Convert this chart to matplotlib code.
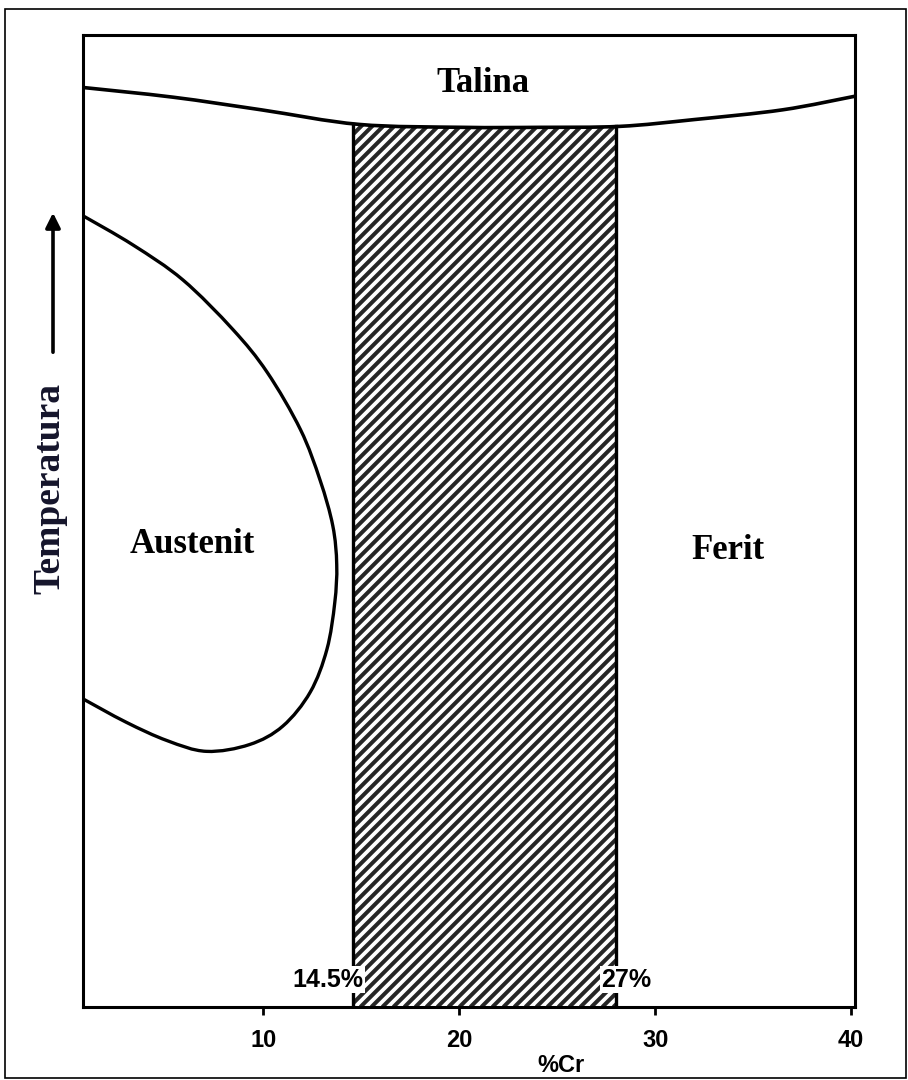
import numpy as np
import matplotlib.pyplot as plt
from matplotlib.patches import Polygon, Rectangle, PathPatch
from matplotlib.path import Path

# liquidus line (Talina boundary)
liq_x = [0.8, 5.4, 9.9, 14.9, 20.2, 24.1, 28.2, 32.0, 36.5, 40.2]
liq_y = [94.6, 93.6, 92.3, 90.8, 90.5, 90.5, 90.6, 91.3, 92.3, 93.7]

# austenite loop (gamma loop)
aus_x = [0.8, 3.35, 5.9, 8.45, 10.2, 11.9, 12.9, 13.55, 13.75, 13.65, 13.25,
         12.4, 11.0, 9.3, 7.1, 5.1, 3.0, 0.8]
aus_y = [81.4, 78.4, 74.8, 69.7, 65.3, 59.4, 54.2, 49.5, 45.5, 41.6, 36.8,
         32.4, 28.9, 27.0, 26.3, 27.4, 29.3, 31.7]

# ferritic band limits (% Cr)
band_lo = 14.6
band_hi = 28.0
band_labels = ['14.5%', '27%']

xticks = [10, 20, 30, 40]
xlim = (0.8, 40.2)
ylim = (0, 100)

serif = 'Liberation Serif'
sans = 'Liberation Sans'


def smooth_path(xs, ys):
    # Catmull-Rom through the read points, drawn as cubic Bezier segments
    p = np.column_stack([xs, ys]).astype(float)
    ext = np.vstack([p[0], p, p[-1]])
    verts = [p[0]]
    codes = [Path.MOVETO]
    for i in range(1, len(ext) - 2):
        p0, p1, p2, p3 = ext[i - 1], ext[i], ext[i + 1], ext[i + 2]
        verts += [p1 + (p2 - p0) / 6, p2 - (p3 - p1) / 6, p2]
        codes += [Path.CURVE4] * 3
    return Path(verts, codes)


fig = plt.figure(figsize=(9.08, 10.8), dpi=100)
fig.patch.set_facecolor('white')
fig.patches.append(Rectangle((0.006, 0.002), 0.992, 0.99, transform=fig.transFigure,
                             fill=False, lw=1.2, ec='black'))

ax = fig.add_axes([0.0914, 0.0676, 0.8502, 0.9])
ax.set_xlim(*xlim)
ax.set_ylim(*ylim)

# band polygon (clip for the hatch)
bx = np.linspace(band_lo, band_hi, 60)
by = np.interp(bx, liq_x, liq_y)
poly_pts = [(band_lo, 0)] + list(zip(bx, by)) + [(band_hi, 0)]
band = Polygon(poly_pts, closed=True, fc='white', ec='none', zorder=1)
ax.add_patch(band)

# 45 deg hatch lines in pixel space
W = 0.8502 * 908
H = 0.9 * 1080
px_x = W / (xlim[1] - xlim[0])
px_y = H / (ylim[1] - ylim[0])
slope = px_x / px_y
step = 11.0 / px_x
for x0 in np.arange(band_lo - 100 / slope, band_hi + step, step):
    ln, = ax.plot([x0, x0 + 100 / slope], [0, 100], color='#262626', lw=2.9,
                  solid_capstyle='butt', zorder=2)
    ln.set_clip_path(band)

# band edges
for xb in [band_lo, band_hi]:
    ax.plot([xb, xb], [0, np.interp(xb, liq_x, liq_y)], color='black', lw=2.4, zorder=3)

ax.add_patch(PathPatch(smooth_path(liq_x, liq_y), fc='none', ec='black', lw=2.6,
                       zorder=3, capstyle='round'))
ax.add_patch(PathPatch(smooth_path(aus_x, aus_y), fc='none', ec='black', lw=2.4,
                       zorder=3, capstyle='round'))

for s in ax.spines.values():
    s.set_linewidth(2.2)
ax.set_xticks(xticks)
ax.set_xticklabels([str(t) for t in xticks], fontfamily=sans, fontweight='bold', fontsize=17)
ax.tick_params(axis='x', direction='out', length=6, width=2, pad=10)
ax.set_yticks([])

# labels at the bottom of the band
ax.text(band_lo + 0.5, 2.8, band_labels[0], ha='right', va='center', fontsize=18,
        fontweight='bold', fontfamily=sans, zorder=4,
        bbox=dict(fc='white', ec='none', pad=1.0))
ax.text(band_hi - 0.75, 2.8, band_labels[1], ha='left', va='center', fontsize=18,
        fontweight='bold', fontfamily=sans, zorder=4,
        bbox=dict(fc='white', ec='none', pad=1.0))

# region names
ax.text(21.2, 95.0, 'Talina', ha='center', va='center', fontsize=25,
        fontweight='bold', fontfamily=serif)
ax.text(6.4, 47.6, 'Austenit', ha='center', va='center', fontsize=25,
        fontweight='bold', fontfamily=serif)
ax.text(33.7, 47.0, 'Ferit', ha='center', va='center', fontsize=25,
        fontweight='bold', fontfamily=serif)

fig.text(561 / 908, 1 - 1066 / 1080, '%Cr', ha='center', va='center', fontsize=17,
         fontweight='bold', fontfamily=sans)

# temperature axis label with arrow
fig.text(50 / 908, 1 - 488 / 1080, 'Temperatura', rotation=90, ha='center', va='center',
         fontsize=27, fontweight='bold', fontfamily=serif, color='#15152b')
ax.annotate('', xy=(53 / 908, 1 - 210 / 1080), xytext=(53 / 908, 1 - 355 / 1080),
            xycoords='figure fraction', textcoords='figure fraction',
            arrowprops=dict(arrowstyle='-|>', lw=2.6, color='black', mutation_scale=22))

fig.savefig('out.png', dpi=100)
